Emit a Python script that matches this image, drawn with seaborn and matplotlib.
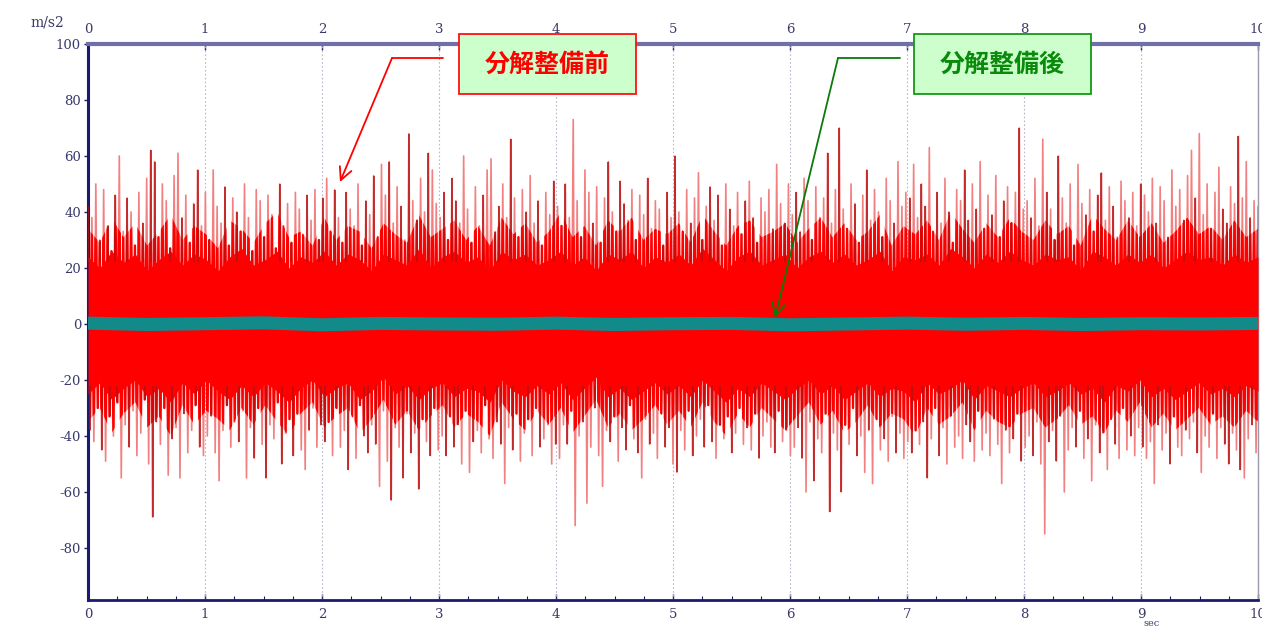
import numpy as np
import pandas as pd
import matplotlib
matplotlib.use("Agg")
import matplotlib.pyplot as plt
import seaborn as sns
from matplotlib.patches import Rectangle, FancyArrowPatch
from matplotlib.lines import Line2D

# ---------------- data ----------------
# peak values of the "before overhaul" signal (m/s2), 300 samples over 0-10 s
before_peak_up = [
    42, 38, 50, 30, 48, 35, 26, 46, 60, 33, 45, 40, 28, 47, 36, 52, 62, 58, 31, 50, 44, 27, 53, 61, 38, 46, 29, 43, 55, 35,
    47, 30, 55, 42, 36, 49, 28, 45, 40, 33, 50, 38, 26, 48, 44, 31, 46, 39, 27, 50, 35, 43, 29, 47, 41, 32, 46, 37, 48, 30,
    45, 52, 33, 48, 38, 29, 47, 41, 35, 50, 28, 44, 39, 53, 31, 57, 46, 58, 36, 49, 42, 30, 68, 44, 37, 52, 40, 61, 55, 43,
    38, 47, 30, 52, 44, 36, 60, 41, 29, 49, 35, 46, 55, 59, 33, 42, 50, 38, 66, 45, 31, 48, 40, 53, 36, 44, 28, 47, 39, 51,
    42, 35, 50, 38, 73, 44, 31, 55, 47, 36, 49, 29, 45, 58, 40, 33, 51, 43, 37, 48, 30, 46, 39, 52, 34, 44, 41, 28, 47, 38,
    60, 40, 33, 48, 36, 45, 54, 30, 42, 49, 37, 46, 28, 50, 41, 35, 47, 32, 44, 51, 38, 29, 45, 40, 48, 34, 57, 43, 36, 50,
    39, 47, 33, 52, 44, 30, 49, 38, 45, 61, 36, 48, 70, 41, 34, 50, 43, 29, 46, 55, 37, 48, 40, 31, 52, 44, 36, 58, 42, 47,
    45, 57, 38, 50, 42, 63, 33, 47, 36, 52, 40, 29, 48, 44, 55, 37, 50, 41, 58, 34, 46, 39, 53, 31, 44, 49, 36, 47, 70, 41,
    44, 38, 52, 35, 66, 47, 41, 30, 60, 45, 36, 50, 28, 57, 43, 39, 48, 33, 46, 54, 37, 49, 42, 31, 51, 44, 38, 47, 35, 50,
    46, 40, 52, 36, 49, 44, 31, 55, 42, 48, 37, 53, 62, 45, 68, 39, 50, 34, 47, 56, 41, 36, 49, 43, 67, 45, 58, 38, 44, 42,
]
before_peak_dn = [
    -38, -42, -30, -45, -49, -33, -40, -28, -55, -36, -44, -31, -47, -39, -27, -50, -69, -35, -43, -30, -54, -41, -37, -55, -32, -46, -38, -29, -44, -47,
    -40, -33, -46, -56, -38, -29, -44, -35, -42, -31, -55, -37, -48, -30, -43, -55, -36, -41, -28, -50, -39, -34, -47, -32, -45, -52, -38, -30, -44, -36,
    -42, -35, -47, -30, -44, -38, -52, -33, -48, -29, -40, -46, -36, -43, -58, -31, -49, -63, -37, -44, -55, -32, -46, -39, -59, -34, -42, -47, -30, -45,
    -40, -47, -33, -44, -36, -50, -31, -53, -42, -38, -46, -29, -41, -48, -35, -43, -57, -37, -45, -32, -49, -39, -34, -47, -30, -44, -41, -36, -50, -43,
    -48, -36, -43, -31, -72, -40, -35, -64, -44, -30, -47, -58, -38, -42, -33, -49, -37, -45, -29, -41, -46, -55, -34, -43, -39, -48, -32, -44, -37, -50,
    -53, -38, -45, -31, -47, -40, -34, -44, -29, -42, -48, -36, -41, -33, -46, -39, -30, -43, -37, -45, -32, -48, -40, -35, -44, -46, -31, -42, -38, -47,
    -44, -37, -48, -60, -35, -56, -41, -46, -32, -67, -39, -45, -60, -36, -43, -30, -47, -40, -53, -38, -57, -34, -45, -41, -49, -33, -46, -39, -48, -42,
    -46, -38, -43, -35, -55, -41, -30, -47, -37, -50, -33, -44, -40, -48, -36, -42, -49, -31, -45, -39, -47, -34, -43, -57, -38, -46, -41, -32, -49, -44,
    -40, -47, -35, -50, -75, -42, -38, -49, -33, -60, -45, -37, -44, -31, -48, -41, -56, -36, -46, -39, -52, -34, -43, -48, -30, -45, -40, -47, -37, -44,
    -48, -42, -57, -36, -45, -39, -50, -33, -44, -47, -38, -41, -35, -46, -53, -40, -44, -32, -48, -37, -43, -50, -39, -45, -52, -55, -41, -36, -46, -34,
]
# solid core of the "before" signal, every 0.1 s
before_core_up = [
    24, 20, 26, 22, 25, 19, 23, 26, 21, 25, 23, 19, 24, 27, 21, 23, 26, 20, 24, 22,
    26, 21, 25, 23, 19, 25, 23, 21, 27, 20, 24, 26, 22, 24, 19, 26, 23, 25, 21, 23,
    26, 21, 24, 19, 25, 23, 26, 20, 24, 22, 25, 21, 27, 23, 19, 24, 26, 21, 23, 25,
    20, 24, 26, 22, 25, 21, 23, 26, 19, 24, 23, 25, 21, 27, 24, 20, 25, 22, 26, 23,
    21, 25, 23, 24, 19, 26, 24, 21, 25, 22, 25, 20, 23, 26, 23, 24, 21, 25, 22, 24,
]
before_core_dn = [
    -25, -21, -27, -23, -20, -26, -23, -28, -21, -25, -20, -24, -27, -22, -26, -21, -24, -28, -23, -20,
    -26, -23, -21, -27, -24, -19, -25, -22, -27, -23, -21, -26, -23, -24, -28, -20, -24, -26, -22, -25,
    -21, -27, -23, -19, -26, -23, -27, -24, -21, -25, -22, -26, -20, -24, -28, -23, -26, -21, -24, -27,
    -23, -20, -25, -22, -27, -24, -21, -26, -23, -24, -28, -21, -25, -23, -20, -27, -22, -24, -26, -23,
    -21, -26, -24, -21, -25, -23, -28, -22, -24, -20, -26, -23, -27, -24, -21, -25, -23, -26, -22, -24,
]
# extent of the saturated-red part of the trace, every 0.1 s
before_band_up = [
    34, 29, 38, 31, 36, 28, 33, 39, 30, 35, 32, 27, 37, 34, 29, 36, 40, 31, 33, 28,
    38, 30, 35, 33, 27, 36, 32, 29, 39, 31, 34, 37, 30, 35, 28, 38, 32, 36, 29, 33,
    40, 31, 35, 28, 37, 33, 38, 30, 34, 32, 36, 29, 39, 33, 28, 35, 37, 31, 33, 36,
    29, 34, 38, 31, 36, 30, 33, 39, 28, 35, 32, 37, 30, 40, 34, 29, 36, 31, 38, 33,
    30, 37, 32, 35, 28, 39, 34, 30, 37, 31, 36, 29, 33, 38, 32, 35, 30, 37, 31, 34,
]
before_band_dn = [
    -35, -30, -39, -32, -28, -37, -33, -40, -29, -36, -31, -34, -38, -30, -36, -29, -35, -40, -32, -28,
    -37, -33, -30, -39, -34, -27, -36, -31, -38, -33, -29, -37, -32, -35, -40, -28, -34, -38, -31, -36,
    -30, -39, -33, -27, -37, -32, -38, -34, -29, -36, -31, -37, -28, -35, -40, -32, -37, -30, -34, -38,
    -33, -28, -36, -31, -39, -35, -29, -37, -32, -34, -40, -30, -36, -33, -28, -38, -31, -35, -37, -32,
    -30, -37, -34, -29, -36, -33, -39, -31, -35, -28, -37, -32, -38, -34, -30, -36, -33, -37, -31, -35,
]
# "after overhaul" signal, every 0.5 s
after_vals = [0.3, -0.2, 0.1, 0.4, -0.3, 0.2, 0.0, -0.1, 0.3, -0.2, 0.1,
              0.2, -0.3, 0.0, 0.3, -0.1, 0.2, -0.2, 0.1, 0.0, 0.2]

x_ticks = [0, 1, 2, 3, 4, 5, 6, 7, 8, 9, 10]
y_ticks = [100, 80, 60, 40, 20, 0, -20, -40, -60, -80]
label_before = "分解整備前"
label_after = "分解整備後"
unit_y = "m/s2"
unit_x = "sec"

n_pk = len(before_peak_up)
t_peak = np.linspace(0, 10, n_pk)
half = 10 / (n_pk - 1) / 2
t_core = np.linspace(0, 10, len(before_core_up))
t_band = np.linspace(0, 10, len(before_band_up))
t_after = np.linspace(0, 10, len(after_vals))

# alternating up/down samples -> the waveform trace
zig_t = np.column_stack([t_peak, np.minimum(t_peak + half, 10)]).ravel()
zig_v = np.column_stack([before_peak_up, before_peak_dn]).ravel()
df_before = pd.DataFrame({"t": zig_t, "v": zig_v})
df_after = pd.DataFrame({"t": t_after, "v": after_vals})

# ---------------- style ----------------
sns.set_theme(style="white")
plt.rcParams["font.family"] = ["DejaVu Serif", "DejaVu Sans"]

W, H = 1262, 628
fig = plt.figure(figsize=(W / 100, H / 100), dpi=100)
ax = fig.add_axes([88 / W, 1 - 600 / H, (1258 - 88) / W, (600 - 44) / H])

tick_col = "#3a3a6a"
for xv in x_ticks:
    ax.axvline(xv, color="#b8b8c8", lw=0.8, ls=(0, (1.5, 2)), zorder=1)

# waveform before overhaul: light tips
sns.lineplot(data=df_before, x="t", y="v", ax=ax, sort=False, estimator=None,
             color="#f38080", lw=1.2, zorder=2, legend=False)
# same waveform, saturated red inside the dense band
sns.lineplot(data=df_before, x="t", y="v", ax=ax, sort=False, estimator=None,
             color="#ff0000", lw=1.7, zorder=2.2, legend=False)
red_line = ax.lines[-1]
band = ax.fill_between(t_band, before_band_dn, before_band_up, visible=False)
red_line.set_clip_path(band.get_paths()[0], ax.transData)

# darker spikes
idx = np.arange(n_pk)
dark = (idx % 7 == 0) | (idx % 7 == 3) | (idx % 11 == 5)
up_a = np.asarray(before_peak_up)
dn_a = np.asarray(before_peak_dn)
ax.vlines(t_peak[dark], 22, up_a[dark], colors="#b51010", lw=1.1, zorder=3.5)
ax.vlines(t_peak[dark] + half, -22, dn_a[dark], colors="#b51010", lw=1.1, zorder=3.5)
# solid core
ax.fill_between(t_core, before_core_dn, before_core_up, color="#ff0000", lw=0, zorder=3)

# waveform after overhaul
sns.lineplot(data=df_after, x="t", y="v", ax=ax, color="#138a8a", lw=9.4,
             zorder=5, legend=False, solid_capstyle="butt")

ax.set_xlim(0, 10)
ax.set_ylim(-98.6, 100)
ax.set_xticks(x_ticks)
ax.set_xticklabels([str(v) for v in x_ticks])
ax.set_xticks(np.arange(0, 10.01, 0.25), minor=True)
ax.set_yticks(y_ticks)
ax.set_yticklabels([str(v) for v in y_ticks])
ax.set_xlabel("")
ax.set_ylabel("")
ax.tick_params(axis="x", which="major", top=True, labeltop=True, bottom=True, labelbottom=True,
               direction="in", length=4, width=1, color="#1a1a6e", labelsize=9.5,
               labelcolor=tick_col, pad=6)
ax.tick_params(axis="x", which="minor", top=False, bottom=True, direction="in",
               length=3, width=0.8, color="#1a1a6e")
ax.tick_params(axis="y", which="major", left=True, direction="out", length=3, width=1,
               color="#1a1a6e", labelsize=9.5, labelcolor=tick_col, pad=2)

for side, c, w in [("left", "#1a1a6e", 2.2), ("bottom", "#1a1a6e", 2.0),
                   ("top", "#7070a8", 3.0), ("right", "#9a9aaa", 1.0)]:
    ax.spines[side].set_visible(True)
    ax.spines[side].set_color(c)
    ax.spines[side].set_linewidth(w)

fig.text(30 / W, 1 - 22 / H, unit_y, fontsize=10, color=tick_col, va="center", ha="left")
fig.text(1144 / W, 1 - 624 / H, unit_x, fontsize=7, color=tick_col, va="center", ha="left")


# ---------------- annotations (in figure pixels) ----------------
def px(x, y):
    return (x / W, 1 - y / H)


def label_box(x0, y0, x1, y1, text, edge, tcol):
    r = Rectangle(px(x0, y1), (x1 - x0) / W, (y1 - y0) / H, transform=fig.transFigure,
                  facecolor="#ccffcc", edgecolor=edge, lw=1.3, zorder=10)
    fig.add_artist(r)
    cx, cy = px((x0 + x1) / 2, (y0 + y1) / 2 + 1)
    fig.text(cx, cy, text, fontsize=18, fontweight="bold", color=tcol, ha="center", va="center",
             family=["Noto Sans CJK JP", "DejaVu Sans"], zorder=11)


def elbow_arrow(xa, xb, yh, xt, yt, col):
    fig.add_artist(Line2D([xa / W, xb / W], [1 - yh / H, 1 - yh / H], transform=fig.transFigure,
                          color=col, lw=1.3, zorder=9))
    arr = FancyArrowPatch(px(xb, yh), px(xt, yt), transform=fig.transFigure,
                          arrowstyle="->,head_length=9,head_width=4.5", color=col, lw=1.3,
                          mutation_scale=1, zorder=9, shrinkA=0, shrinkB=0)
    fig.add_artist(arr)


label_box(459, 34, 636, 94, label_before, "#ff1010", "#ff0000")
label_box(914, 34, 1091, 94, label_after, "#139913", "#0a8a0a")
elbow_arrow(443, 392, 58, 340, 182, "#ff0000")
elbow_arrow(900, 838, 58, 775, 318, "#0a7a0a")

fig.savefig("out.png", dpi=100)
